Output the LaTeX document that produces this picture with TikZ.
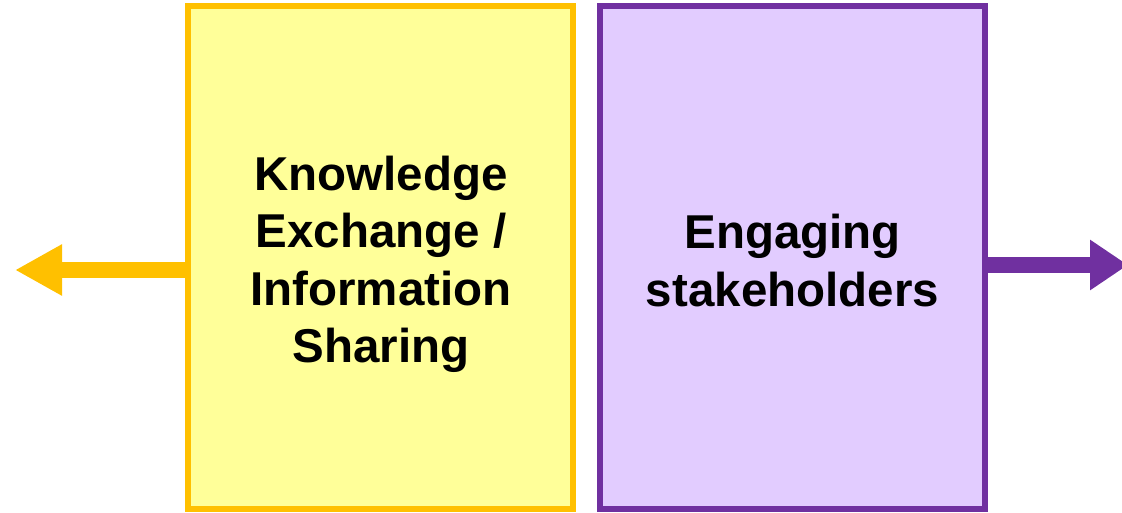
\documentclass[tikz,border=0pt]{standalone}
\usepackage{fontspec}
\setmainfont{Liberation Sans}
\usetikzlibrary{arrows.meta}
\definecolor{yfill}{HTML}{FFFF99}
\definecolor{yline}{HTML}{FFC000}
\definecolor{pfill}{HTML}{E2CCFF}
\definecolor{pline}{HTML}{7030A0}
\tikzset{
  box/.style={rectangle, line width=6pt, minimum width=385pt, minimum height=502pt, inner sep=0pt},
  ybox/.style={box, draw=yline, fill=yfill},
  pbox/.style={box, draw=pline, fill=pfill},
  label/.style={align=center, inner sep=0pt, font=\fontsize{47.5}{57.5}\selectfont\bfseries},
  yarrow/.style={draw=yline, line width=16pt, -{Triangle[length=47pt,width=48pt]}},
  parrow/.style={draw=pline, line width=16pt, -{Triangle[length=38pt,width=48pt]}}
}
\begin{document}
\begin{tikzpicture}[x=1pt,y=1pt]
\clip (0,0) rectangle (1122,512);
\useasboundingbox (0,0) rectangle (1122,512);
\coordinate (lt) at (15,242);
\coordinate (rt) at (1128,247);
\node[ybox] (kb) at (380.5,254.5) {};
\node[pbox] (eb) at (792.5,254.5) {};
\node[label] (kt) at (381,247.5) {Knowledge\\Exchange /\\Information\\Sharing};
\node[label] (et) at (792.5,251.5) {Engaging\\stakeholders};
\draw[yarrow] (kb.west |- lt) -- (lt);
\draw[parrow] (eb.east |- rt) -- (rt);
\end{tikzpicture}
\end{document}
